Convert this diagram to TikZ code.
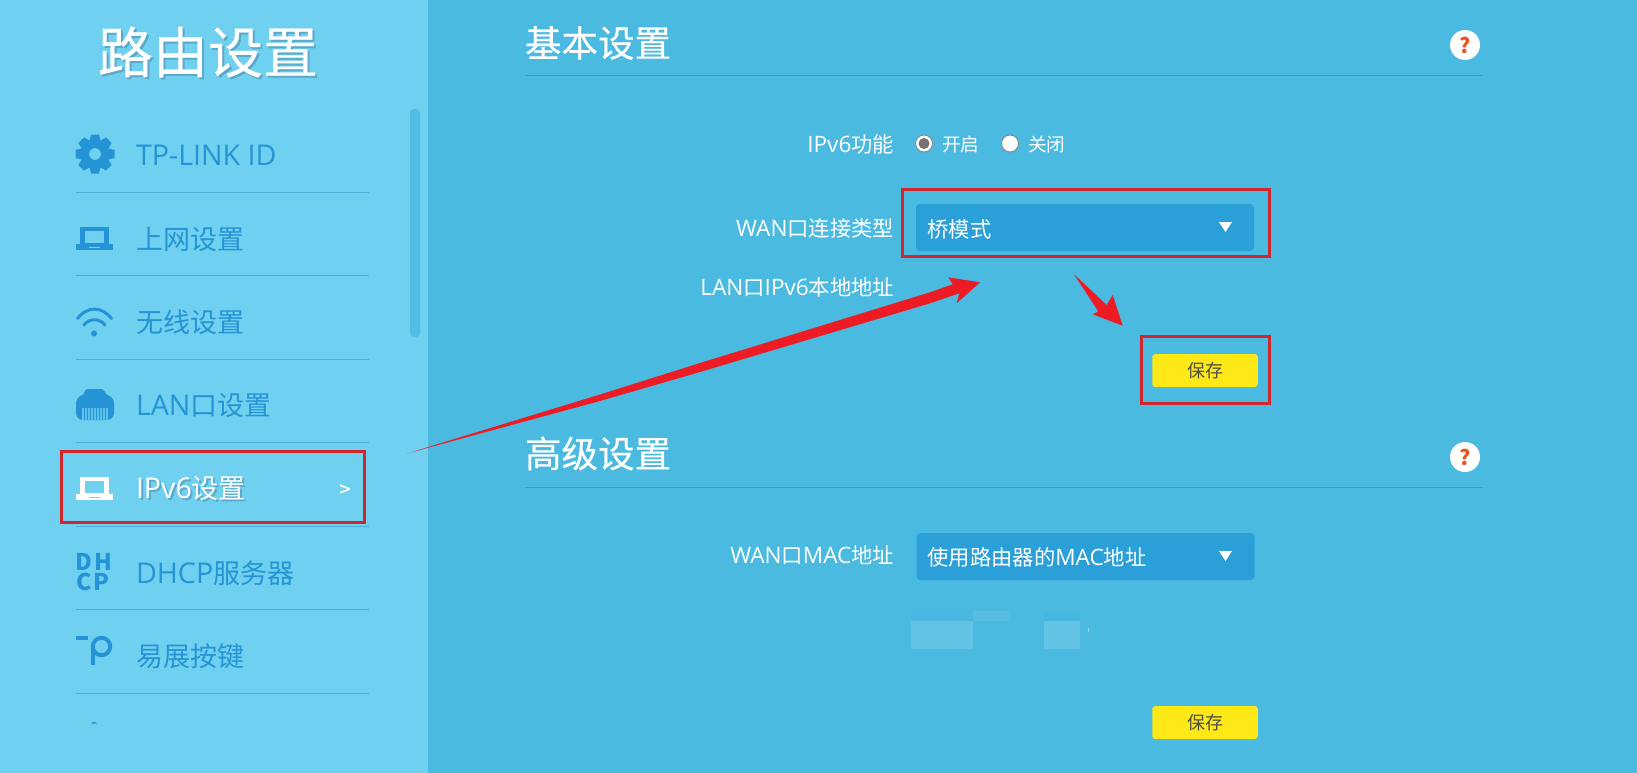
\documentclass[tikz,border=0pt]{standalone}
\usepackage{fontspec}
\newfontfamily\cjk{Noto Sans CJK SC}
\newfontfamily\cjkb[FakeBold=0.35]{Noto Sans CJK SC}
\newfontfamily\latf[Scale=1.06]{Open Sans}
\newcommand{\la}[1]{{\latf #1}}
\definecolor{sidebg}{HTML}{70D0EF}
\definecolor{mainbg}{HTML}{4ABAE0}
\definecolor{scrollc}{HTML}{50BDE2}
\definecolor{menuc}{HTML}{2494D6}
\definecolor{sepc}{HTML}{4FAFD6}
\definecolor{dropc}{HTML}{2B9FD7}
\definecolor{yellowc}{HTML}{FCE916}
\definecolor{redbox}{HTML}{D2262F}
\definecolor{redarrow}{HTML}{ED1C24}
\definecolor{linec}{HTML}{2A9FD0}
\definecolor{shadowc}{HTML}{5AA9C8}
\definecolor{blura}{HTML}{62C3E5}
\definecolor{blurb}{HTML}{57BEE3}
\definecolor{blurc}{HTML}{45B5E0}
\definecolor{helpc}{HTML}{F0501E}
\tikzset{
  txt/.style={inner sep=0pt,outer sep=0pt,font=\cjk},
  menutext/.style={txt,anchor=west,text=menuc,font=\cjk\fontsize{27}{27}\selectfont},
  labeltext/.style={txt,anchor=east,text=white,font=\cjk\fontsize{21.3}{22}\selectfont},
  droptext/.style={txt,anchor=west,text=white,font=\cjk\fontsize{21.3}{22}\selectfont},
  radiotext/.style={txt,anchor=west,text=white,font=\cjk\fontsize{18.6}{19}\selectfont},
  savebtn/.style={txt,fill=yellowc,rounded corners=3pt,minimum width=105.5pt,minimum height=33pt,text=black!70,font=\cjk\fontsize{18}{18}\selectfont},
  dropbox/.style={inner sep=0pt,outer sep=0pt,fill=dropc,rounded corners=4pt,minimum width=338pt,minimum height=47pt},
  redrect/.style={draw=redbox,line width=3pt,inner sep=0pt,outer sep=0pt},
  sect/.style={txt,anchor=west,text=white,font=\cjkb\fontsize{36.5}{36}\selectfont},
  helpdot/.style={circle,fill=white,minimum size=30pt,inner sep=0pt,outer sep=0pt,text=helpc,font=\cjk\bfseries\fontsize{21}{21}\selectfont},
  radio/.style={circle,draw=black!45,line width=1pt,fill=white,minimum size=17pt,inner sep=0pt,outer sep=0pt},
  sep/.style={draw=sepc,line width=1pt},
  seclinestyle/.style={draw=linec,line width=1pt},
  arrowfill/.style={fill=redarrow,draw=none},
  dhcptext/.style={txt,text=menuc,font=\cjk\bfseries\fontsize{23}{23}\selectfont}
}
\newcommand{\laptopicon}[2]{%
  \draw[#2,line width=4.4pt] (82.4,#1+2.2) rectangle (106.6,#1+18);
  \fill[#2] (76,#1+17) -- (113,#1+17) -- (113,#1+23) -- (76,#1+23) -- cycle;
  \fill[sidebg] (89,#1+19.5) rectangle (100,#1+20.5);
}
\begin{document}
\begin{tikzpicture}[x=1pt,y=-1pt]
\useasboundingbox (0,0) rectangle (1637,773);
\fill[mainbg] (0,0) rectangle (1637,773);
\fill[sidebg] (0,0) rectangle (428,773);
\fill[scrollc,rounded corners=4pt] (410,109) rectangle (420,337);

% title
\node[txt,anchor=center,text=shadowc,font=\cjkb\fontsize{55}{54}\selectfont] at (210,54) {路由设置};
\node[txt,anchor=center,text=white,font=\cjkb\fontsize{55}{54}\selectfont] (title) at (208,52) {路由设置};

% separators
\foreach \yy in {192,275,359,442,526,609,693}
  \draw[sep] (76,\yy) -- (369,\yy);

% menu texts
\node[menutext] (m1) at (136,155) {\la{TP-LINK ID}};
\node[menutext] (m2) at (136,239) {上网设置};
\node[menutext] (m3) at (136,322) {无线设置};
\node[menutext] (m4) at (136,405.5) {\la{LAN}口设置};
\node[menutext,text=shadowc] at (138,491) {\la{IPv6}设置};
\node[menutext,text=white] (m5) at (136,489) {\la{IPv6}设置};
\node[menutext] (m6) at (136,573) {\la{DHCP}服务器};
\node[menutext] (m7) at (136,656) {易展按键};
\node[txt,text=white,font=\cjkb\fontsize{20}{20}\selectfont] (chev) at (345,490.5) {>};

% gear
\foreach \a in {0,45,...,315}
  \fill[menuc,rotate around={\a:(95,154)}] (91,134.5) -- (99,134.5) -- (101.5,145) -- (88.5,145) -- cycle;
\fill[menuc,even odd rule] (95,154) circle[radius=14.5] (95,154) circle[radius=6];

% laptop icons
\laptopicon{227}{menuc}
\laptopicon{477}{white}

% wifi
\draw[menuc,line width=3pt,line cap=round] (77.5,318.5) .. controls (87,306) and (102,306) .. (111.5,318.5);
\draw[menuc,line width=3pt,line cap=round] (84,325) .. controls (89,318) and (100,318) .. (105,325);
\fill[menuc] (94,333.5) circle[radius=3];

% LAN icon
\fill[menuc,rounded corners=3pt] (85,389) -- (104,389) -- (106,395) -- (111,396) -- (114,401) -- (114,416) -- (110,420) -- (80,420) -- (76,416) -- (76,401) -- (79,396) -- (84,395) -- cycle;
\foreach \xx in {83,86,...,107}
  \draw[sidebg!75!menuc,line width=1.2pt] (\xx,408) -- (\xx,420);

% DHCP icon
\node[dhcptext] (dh) at (94,561.5) {D\hspace{1.5pt}H};
\node[dhcptext] (cp) at (93,581.5) {C\hspace{1.5pt}P};

% easy-mesh icon
\fill[menuc] (76,636) rectangle (87.5,640);
\draw[menuc,line width=4pt] (101.5,646.5) circle[radius=8.7];
\fill[menuc] (91,647) rectangle (95,664.5);
\fill[menuc] (91,723.5) -- (94,721.5) -- (97,723.5) -- cycle;

% red box IPv6
\node[redrect,minimum width=303pt,minimum height=71pt] (boxipv) at (213,487) {};

% section headers
\node[sect] (s1) at (525,43) {基本设置};
\draw[seclinestyle] (525,75.5) -- (1483,75.5);
\node[helpdot] (h1) at (1465,45) {?};
\node[sect] (s2) at (525,453.5) {高级设置};
\draw[seclinestyle] (525,487) -- (1483,487);
\node[helpdot] (h2) at (1465,457) {?};

% form 1
\node[labeltext] (l1) at (894,144) {\la{IPv6}功能};
\node[radio] (r1) at (924,143.5) {};
\fill[black!55] (924,143.5) circle[radius=5.5];
\node[radiotext] (t1) at (942,144) {开启};
\node[radio] (r2) at (1010,143.5) {};
\node[radiotext] (t2) at (1028,144) {关闭};
\node[labeltext] (l2) at (894,228) {\la{WAN}口连接类型};
\node[dropbox] (d1) at (1085,227.5) {};
\node[droptext] (dt1) at (927.5,229.5) {桥模式};
\fill[white] (1219,222) -- (1232,222) -- (1225.5,232) -- cycle;
\node[labeltext] (l3) at (894,287.5) {\la{LAN}口\la{IPv6}本地地址};
\node[savebtn] (sv1) at (1205,370.5) {保存};
\node[redrect,minimum width=366.5pt,minimum height=67pt] (boxwan) at (1086,223) {};
\node[redrect,minimum width=128pt,minimum height=67pt] (boxsave) at (1205.5,369.5) {};

% form 2
\node[labeltext] (l4) at (894,555.5) {\la{WAN}口\la{MAC}地址};
\node[dropbox] (d2) at (1085.5,556.5) {};
\node[droptext] (dt2) at (927.5,557.5) {使用路由器的\la{MAC}地址};
\fill[white] (1219,551) -- (1232,551) -- (1225.5,561) -- cycle;

% blurred
\fill[blura] (910.5,621) rectangle (973,649);
\fill[blura] (1044,621) rectangle (1080,649);
\fill[blurb] (973,611) rectangle (1009,621);
\fill[blurc!70!mainbg] (1044,611) rectangle (1080,621);
\fill[blurc!35!mainbg] (910.5,609) rectangle (973,621);
\fill[white!40!mainbg] (1088,628) rectangle (1089,632);

\node[savebtn] (sv2) at (1205,722.5) {保存};

% arrows
\coordinate (a1tail) at (407,453.5);
\coordinate (a1tip) at (980,282.3);
\coordinate (a2tail) at (1074,274.3);
\coordinate (a2tip) at (1122.7,325.7);
\fill[arrowfill] (a1tail) -- (600,394.5) -- (700,363) -- (930,292.3) -- (952.7,284.3) -- (948.3,277.3) -- (a1tip) -- (956.7,303.3) -- (959.3,293.3) -- (930,303.3) -- (700,372) -- (600,401) -- cycle;
\fill[arrowfill] (a2tail) -- (1106.7,305) -- (1112.7,295) -- (a2tip) -- (1092.7,314.3) -- (1098.3,311.5) -- cycle;
\end{tikzpicture}
\end{document}
